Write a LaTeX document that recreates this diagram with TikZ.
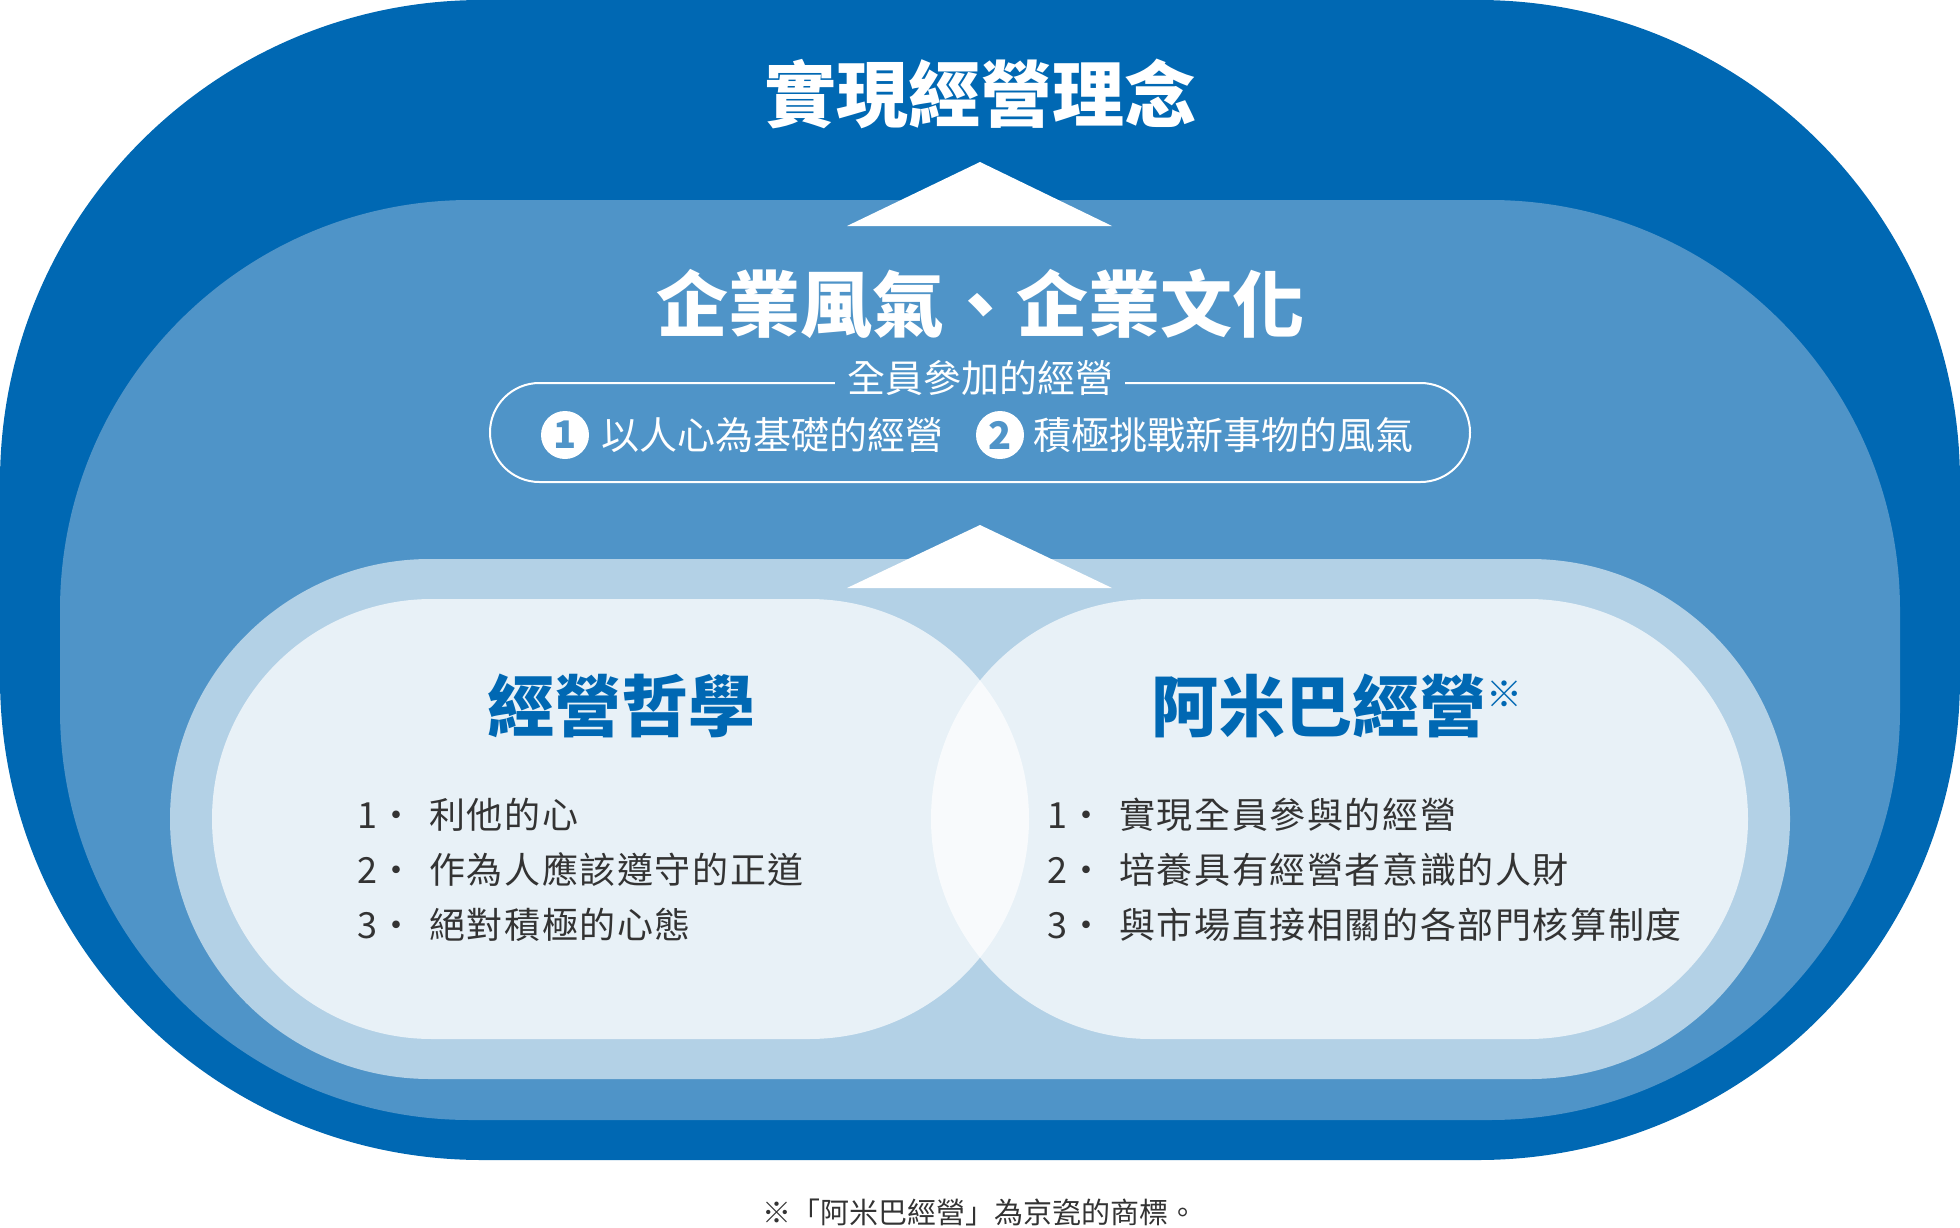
\documentclass[tikz,border=0pt]{standalone}
\usepackage{fontspec}
\setmainfont{Noto Sans CJK TC}
\usepackage{tikz}

\definecolor{darkblue}{RGB}{0,104,179}
\definecolor{midblue}{RGB}{79,148,200}
\definecolor{paleblue}{RGB}{179,209,230}
\definecolor{textgray}{RGB}{51,51,51}

\begin{document}
\begin{tikzpicture}[x=1pt,y=-1pt,
  bigtitle/.style={text=white,inner sep=0,font=\fontsize{72}{80}\selectfont\bfseries},
  pilltext/.style={text=white,inner sep=0,font=\fontsize{38}{44}\selectfont},
  numdot/.style={circle,fill=white,minimum size=48pt,inner sep=0,text=midblue,font=\fontsize{38}{44}\selectfont\bfseries},
  heading/.style={text=darkblue,inner sep=0,font=\fontsize{67}{74}\selectfont\bfseries},
  item/.style={text=textgray,inner sep=0,anchor=base west,font=\fontsize{36}{42}\selectfont\addfontfeature{LetterSpace=4.5}}]
\useasboundingbox (0,0) rectangle (1960,1228);
% layers
\fill[darkblue,rounded corners=482pt] (0,0) rectangle (1960,1160);
\fill[midblue,rounded corners=410pt] (60,200) rectangle (1900,1120);
\fill[paleblue,rounded corners=259.9pt] (170,559) rectangle (1790,1079);
\fill[white,fill opacity=.7,rounded corners=219.9pt] (212,599) rectangle (1029,1039);
\fill[white,fill opacity=.7,rounded corners=219.9pt] (931,599) rectangle (1748,1039);
% arrows
\fill[white] (847,226) -- (980,162) -- (1112,226) -- cycle;
\fill[white] (847,588) -- (980,525) -- (1112,588) -- cycle;

\node[bigtitle] (goal) at (980,94) {實現經營理念};
\node[bigtitle] (culture) at (980,304) {企業風氣、企業文化};

\draw[white,line width=2pt,rounded corners=49.4pt] (490,383) rectangle (1470,482);
\node[pilltext,fill=midblue,inner xsep=12pt] (allpart) at (980,378) {全員參加的經營};
\node[numdot] (one) at (565,435) {1};
\node[pilltext,anchor=west] (heart) at (601,435) {以人心為基礎的經營};
\node[numdot] (two) at (1000,435) {2};
\node[pilltext,anchor=west] (spirit) at (1033,435) {積極挑戰新事物的風氣};

\node[heading] (philo) at (621,706) {經營哲學};
\node[heading] (amoeba) at (1319,706) {阿米巴經營};
\node[text=darkblue,inner sep=0,anchor=west,font=\fontsize{36}{40}\selectfont] (mark) at (amoeba.east) [yshift=12pt] {※};

\node[item] (pn1) at (357,828) {1・};
\node[item] (pt1) at (429,828) {利他的心};
\node[item] (pn2) at (357,883) {2・};
\node[item] (pt2) at (429,883) {作為人應該遵守的正道};
\node[item] (pn3) at (357,938) {3・};
\node[item] (pt3) at (429,938) {絕對積極的心態};

\node[item] (an1) at (1047,828) {1・};
\node[item] (at1) at (1119,828) {實現全員參與的經營};
\node[item] (an2) at (1047,883) {2・};
\node[item] (at2) at (1119,883) {培養具有經營者意識的人財};
\node[item] (an3) at (1047,938) {3・};
\node[item] (at3) at (1119,938) {與市場直接相關的各部門核算制度};

\node[text=textgray,inner sep=0,font=\fontsize{29}{33}\selectfont] (note) at (980,1212) {※「阿米巴經營」為京瓷的商標。};
\end{tikzpicture}
\end{document}
